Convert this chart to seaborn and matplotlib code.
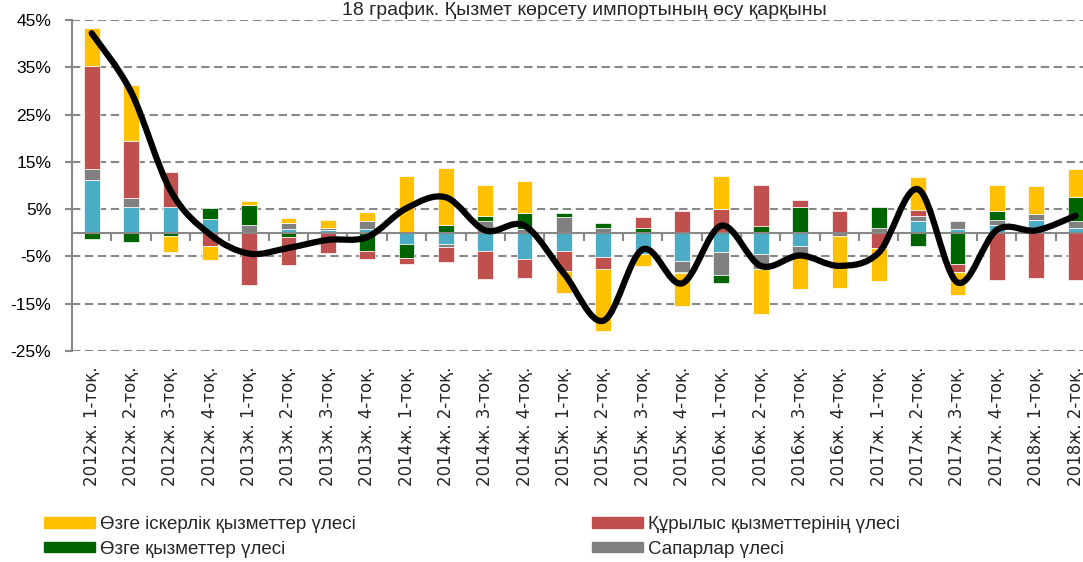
import numpy as np
import matplotlib
matplotlib.use('Agg')
import matplotlib.pyplot as plt
from matplotlib.path import Path
from matplotlib.patches import PathPatch, Patch
import seaborn as sns

# --- data (percentage points) ---
quarters = ['2012ж. 1-тоқ.', '2012ж. 2-тоқ.', '2012ж. 3-тоқ.', '2012ж. 4-тоқ.',
            '2013ж. 1-тоқ.', '2013ж. 2-тоқ.', '2013ж. 3-тоқ.', '2013ж. 4-тоқ.',
            '2014ж. 1-тоқ.', '2014ж. 2-тоқ.', '2014ж. 3-тоқ.', '2014ж. 4-тоқ.',
            '2015ж. 1-тоқ.', '2015ж. 2-тоқ.', '2015ж. 3-тоқ.', '2015ж. 4-тоқ.',
            '2016ж. 1-тоқ.', '2016ж. 2-тоқ.', '2016ж. 3-тоқ.', '2016ж. 4-тоқ.',
            '2017ж. 1-тоқ.', '2017ж. 2-тоқ.', '2017ж. 3-тоқ.', '2017ж. 4-тоқ.',
            '2018ж. 1-тоқ.', '2018ж. 2-тоқ.']

transport = [11.2, 5.5, 5.5, 2.9, 0.0, 0.7, 0.6, 0.9, -2.4, -2.4, -3.8, -5.5, -3.9,
             -5.1, -4.4, -5.9, -4.0, -4.4, -2.7, 0.0, 0.0, 2.5, 0.9, 1.6, 2.8, 1.1]
travel = [2.3, 1.8, 0.0, 0.0, 1.6, 1.4, 0.5, 1.6, 0.0, -0.7, 2.5, 0.7, 3.4,
          1.1, 0.0, -2.3, -4.9, -3.2, -1.8, -0.7, 1.0, 1.1, 1.6, 1.1, 1.2, 1.4]
other = [-1.3, -2.0, -0.6, 2.3, 4.2, -0.85, 0.0, -3.9, -3.0, 1.7, 1.0, 3.5, 0.7,
         0.9, 1.0, -0.3, -1.7, 1.5, 5.5, 0.2, 4.5, -2.8, -6.5, 2.0, 0.0, 5.0]
construction = [21.8, 12.1, 7.4, -2.8, -11.1, -6.0, -4.3, -1.7, -1.1, -3.1, -5.9, -4.0, -4.2,
                -2.5, 2.3, 4.6, 5.1, 8.7, 1.4, 4.4, -3.3, 1.3, -1.8, -10.0, -9.5, -9.9]
business = [8.0, 11.9, -3.5, -3.0, 0.85, 1.0, 1.6, 2.0, 12.0, 11.9, 6.6, 6.7, -4.7,
            -13.2, -2.7, -6.9, 6.9, -9.5, -7.4, -10.9, -6.9, 6.9, -4.8, 5.5, 5.9, 5.9]
growth = [42.2, 29.8, 9.0, -0.3, -4.4, -3.2, -1.5, -0.9, 5.2, 7.5, 0.5, 1.5, -8.6,
          -18.6, -3.5, -10.7, 1.5, -7.0, -4.8, -7.0, -4.2, 9.2, -10.5, 0.6, 0.5, 3.6]

names = ['Көлік қызметтерінің үлесі', 'Сапарлар үлесі', 'Өзге қызметтер үлесі',
         'Құрылыс қызметтерінің үлесі', 'Өзге іскерлік қызметтер үлесі']
colors = ['#4BACC6', '#808080', '#006400', '#C0504D', '#FFC000']
series = [transport, travel, other, construction, business]

sns.set_theme(style='white')
plt.rcParams['font.family'] = ['Liberation Sans', 'DejaVu Sans']

fig = plt.figure(figsize=(10.83, 5.62), dpi=100)
ax = fig.add_axes([72/1083, 1-351/562, (1083-72)/1083, 331/562])

x = np.arange(len(quarters))
pos = np.zeros(len(x))
neg = np.zeros(len(x))
for vals, c in zip(series, colors):
    v = np.array(vals)
    base = np.where(v >= 0, pos, neg)
    ax.bar(x, v, bottom=base, width=0.4, color=c, edgecolor='white', linewidth=0.5, zorder=3)
    pos = pos + np.clip(v, 0, None)
    neg = neg + np.clip(v, None, 0)

# smoothed line (Excel-style bezier through the points)
pts = np.column_stack([x, growth]).astype(float)
verts = [pts[0]]
codes = [Path.MOVETO]
n = len(pts)
for i in range(n - 1):
    pm = pts[i-1] if i > 0 else pts[i]
    pp = pts[i+2] if i + 2 < n else pts[i+1]
    c1 = pts[i] + (pts[i+1] - pm) / 6
    c2 = pts[i+1] - (pp - pts[i]) / 6
    verts += [c1, c2, pts[i+1]]
    codes += [Path.CURVE4] * 3
ax.add_patch(PathPatch(Path(verts, codes), facecolor='none', edgecolor='black',
                       lw=4.5, capstyle='round', joinstyle='round', zorder=5))

ax.set_xlim(-0.5, 25.19)
ax.set_ylim(-25, 45)
ax.set_yticks(np.arange(-25, 46, 10))
ax.set_yticklabels([f'{t}%' for t in range(-25, 46, 10)], fontsize=12.5)
ax.yaxis.grid(True, color='#888888', linestyle=(0, (4, 2.2)), linewidth=1.5, zorder=0)
ax.xaxis.grid(False)

for s in ['top', 'right']:
    ax.spines[s].set_visible(False)
ax.spines['left'].set_color('#888888')
ax.spines['left'].set_linewidth(1.5)
ax.spines['bottom'].set_position(('data', 0))
ax.spines['bottom'].set_color('#888888')
ax.spines['bottom'].set_linewidth(1.5)
ax.spines['bottom'].set_zorder(4)
ax.tick_params(axis='y', direction='out', length=5, width=1.5, color='#888888',
               pad=10, left=True, labelcolor='black')
ax.set_xticks([])
ax.set_xticks(np.arange(0.5, 25.5, 1), minor=True)
ax.tick_params(axis='x', which='minor', direction='out', length=6, width=1.5,
               color='#888888', bottom=True)

sec = ax.secondary_xaxis(0)
sec.set_xticks(x, quarters, rotation=90)
sec.spines['bottom'].set_visible(False)
sec.tick_params(length=0, pad=11)
for lab in sec.get_xticklabels():
    lab.set_family(['Liberation Sans Narrow', 'DejaVu Sans'])
    lab.set_fontsize(12)

fig.text(0.54, 1-15/562, '18 график. Қызмет көрсету импортының өсу қарқыны',
         ha='center', va='baseline', fontsize=14)

leg_kw = dict(frameon=False, fontsize=13.5, handlelength=2.72, handleheight=0.48,
              handletextpad=0.27, labelspacing=0.42, borderpad=0, borderaxespad=0,
              loc='upper left')
fig.legend(handles=[Patch(color=colors[4], label=names[4]), Patch(color=colors[2], label=names[2])],
           bbox_to_anchor=(44/1083, 1-516/562), **leg_kw)
fig.legend(handles=[Patch(color=colors[3], label=names[3]), Patch(color=colors[1], label=names[1])],
           bbox_to_anchor=(592/1083, 1-516/562), **leg_kw)

fig.savefig('out.png', dpi=100)
